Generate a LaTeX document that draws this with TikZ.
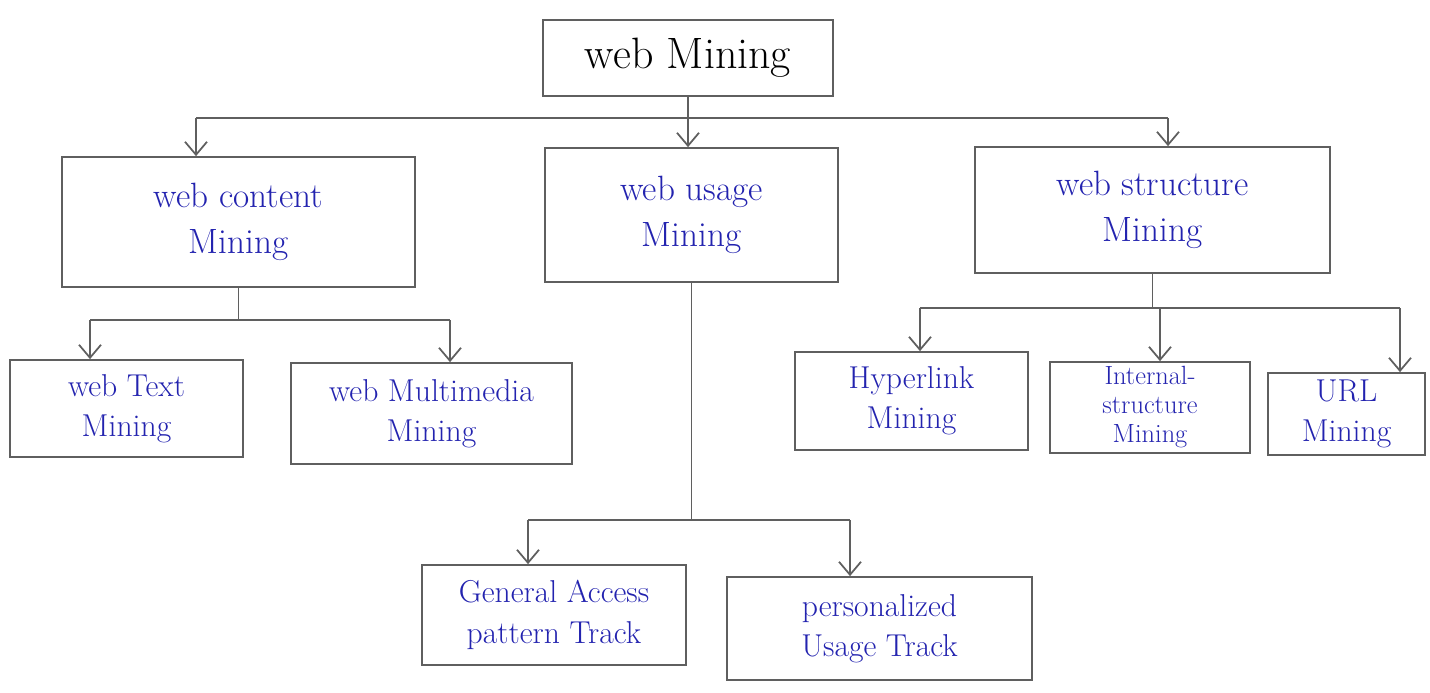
\documentclass[tikz,border=0pt]{standalone}
\usepackage{tikz}
\usetikzlibrary{arrows.meta}

\definecolor{tinta}{RGB}{35,35,175}
\definecolor{lapis}{RGB}{95,95,95}

\begin{document}
\begin{tikzpicture}[
  x=0.02cm, y=-0.02cm,
  font=\fontsize{18}{23}\selectfont,
  bloco/.style={draw=lapis, line width=1pt, align=center, inner sep=0pt, text=tinta},
  linha/.style={draw=lapis, line width=1pt},
  seta/.style={linha, -{Straight Barb[length=2.6mm, width=4.4mm]}},
]
\useasboundingbox (0,0) rectangle (1430,693);

% ---- Raiz -----------------------------------------------------------------
\node[bloco, text=black, font=\fontsize{25}{28}\selectfont,
      minimum width=5.8cm, minimum height=1.52cm] (web) at (688,58) {web Mining};

% ---- Nivel 1 --------------------------------------------------------------
\node[bloco, font=\fontsize{20}{26}\selectfont, minimum width=7.06cm, minimum height=2.6cm]  (content)   at (238.5,222) {web content\\Mining};
\node[bloco, font=\fontsize{20}{26}\selectfont, minimum width=5.86cm, minimum height=2.68cm] (usage)     at (691.5,215) {web usage\\Mining};
\node[bloco, font=\fontsize{20}{26}\selectfont, minimum width=7.1cm,  minimum height=2.52cm] (structure) at (1152.5,210) {web structure\\Mining};

% ---- Nivel 2: conteudo ----------------------------------------------------
\node[bloco, minimum width=4.66cm, minimum height=1.94cm] (texto) at (126.5,408.5) {web Text\\Mining};
\node[bloco, minimum width=5.62cm, minimum height=2.02cm] (multi) at (431.5,413.5) {web Multimedia\\Mining};

% ---- Nivel 2: estrutura ---------------------------------------------------
\node[bloco, minimum width=4.66cm, minimum height=1.96cm] (hyper)    at (911.5,401) {Hyperlink\\Mining};
\node[bloco, font=\fontsize{15}{16.5}\selectfont, minimum width=4.0cm, minimum height=1.82cm] (interna) at (1150,407.5) {Internal-\\structure\\Mining};
\node[bloco, minimum width=3.14cm, minimum height=1.64cm] (url)      at (1346.5,414) {URL\\Mining};

% ---- Nivel 2: uso ---------------------------------------------------------
\node[bloco, minimum width=5.28cm, minimum height=2.0cm]  (geral)   at (554,615) {General Access\\pattern Track};
\node[bloco, minimum width=6.1cm,  minimum height=2.06cm] (pessoal) at (879.5,628.5) {personalized\\Usage Track};

% ---- Barramentos ----------------------------------------------------------
\coordinate (b1e) at (196,118);
\coordinate (b1d) at (1168,118);
\coordinate (b2e) at (90,320);
\coordinate (b2d) at (450,320);
\coordinate (b3e) at (920,308);
\coordinate (b3m) at (1160,308);
\coordinate (b3d) at (1400,308);
\coordinate (b4e) at (528,520);
\coordinate (b4d) at (850,520);

% ---- Arestas --------------------------------------------------------------
\draw[linha] (web.south) -- (web.south |- b1e);
\draw[linha] (b1e) -- (b1d);
\draw[seta] (b1e) -- (b1e |- content.north);
\draw[seta] (web.south |- b1e) -- (web.south |- usage.north);
\draw[seta] (b1d) -- (b1d |- structure.north);

\draw[linha] (content.south) -- (content.south |- b2e);
\draw[linha] (b2e) -- (b2d);
\draw[seta] (b2e) -- (b2e |- texto.north);
\draw[seta] (b2d) -- (b2d |- multi.north);

\draw[linha] (structure.south) -- (structure.south |- b3e);
\draw[linha] (b3e) -- (b3d);
\draw[seta] (b3e) -- (b3e |- hyper.north);
\draw[seta] (b3m) -- (b3m |- interna.north);
\draw[seta] (b3d) -- (b3d |- url.north);

\draw[linha] (usage.south) -- (usage.south |- b4e);
\draw[linha] (b4e) -- (b4d);
\draw[seta] (b4e) -- (b4e |- geral.north);
\draw[seta] (b4d) -- (b4d |- pessoal.north);

\end{tikzpicture}
\end{document}
